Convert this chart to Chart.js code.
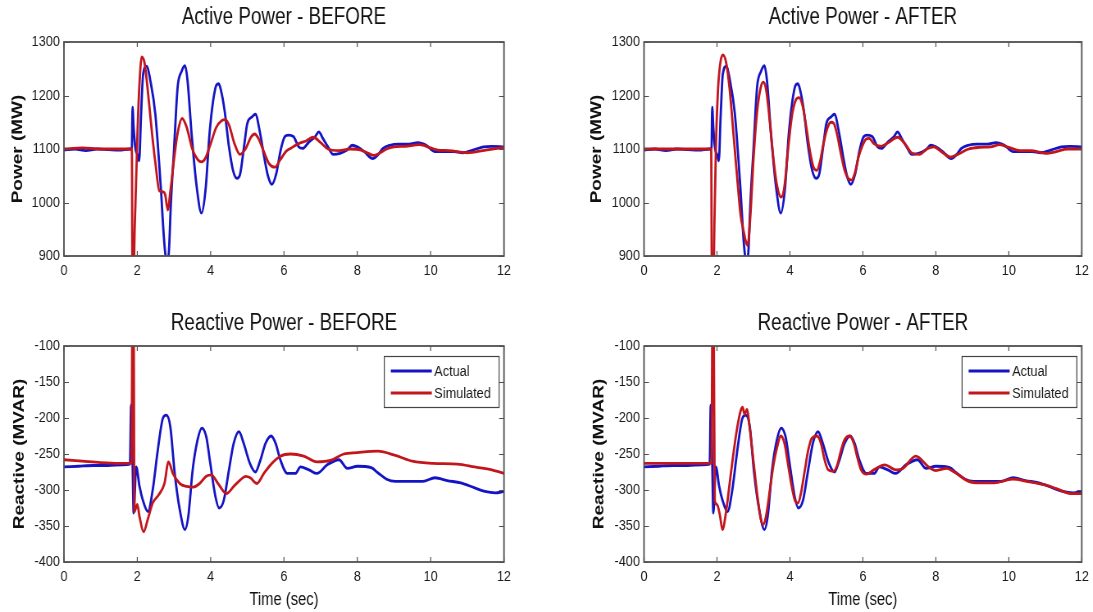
<!DOCTYPE html>
<html>
<head>
<meta charset="utf-8">
<script src="https://cdn.jsdelivr.net/npm/chart.js@4.4.0/dist/chart.umd.min.js"></script>
<style>
    html, body { margin: 0; padding: 0; background: #fff; }
    #wrap { position: relative; width: 1093px; height: 612px; overflow: hidden; }
    /* the source figure is squeezed horizontally, so each panel is drawn wide and scaled */
    canvas { position: absolute; transform: scaleX(0.82); transform-origin: 0 0; }
</style>
</head>
<body>
<div id="wrap">
    <canvas id="activeBefore" width="666" height="300" style="left:0;top:0"></canvas>
    <canvas id="activeAfter" width="667" height="300" style="left:546px;top:0"></canvas>
    <canvas id="reactiveBefore" width="666" height="312" style="left:0;top:300px"></canvas>
    <canvas id="reactiveAfter" width="667" height="312" style="left:546px;top:300px"></canvas>
</div>
<script>
const seriesNames = ["Actual", "Simulated"];
const panelTitles = ["Active Power - BEFORE", "Active Power - AFTER", "Reactive Power - BEFORE", "Reactive Power - AFTER"];

// active power, measured (same in both panels)
const activeActualT = [
    0, 0.3, 0.6, 0.9, 1.2, 1.5, 1.8, 1.85, 1.87, 1.9,
    1.95, 2.0, 2.05, 2.1, 2.16, 2.26, 2.35, 2.49, 2.64, 2.73,
    2.79, 2.85, 2.92, 3.0, 3.1, 3.2, 3.3, 3.37, 3.48, 3.62,
    3.75, 3.86, 3.97, 4.07, 4.16, 4.22, 4.28, 4.38, 4.5, 4.61,
    4.72, 4.8, 4.91, 5.0, 5.13, 5.22, 5.35, 5.46, 5.57, 5.67,
    5.79, 5.91, 6.02, 6.12, 6.26, 6.4, 6.51, 6.68, 6.85, 6.95,
    7.06, 7.2, 7.34, 7.53, 7.72, 7.86, 8.0, 8.19, 8.42, 8.56,
    8.7, 8.89, 9.13, 9.41, 9.65, 9.88, 10.12, 10.35, 10.64, 10.87,
    11.15, 11.44, 11.67, 12,
];
const activeActual = [
    1098, 1100, 1097, 1100, 1099, 1098, 1100, 1100, 1178, 1140,
    1100, 1090, 1078, 1160, 1240, 1255, 1230, 1166, 1029, 930,
    895, 900, 1005, 1098, 1216, 1244, 1256, 1228, 1129, 1029,
    980, 1023, 1129, 1191, 1220, 1222, 1210, 1172, 1104, 1060,
    1045, 1052, 1104, 1148, 1160, 1165, 1129, 1085, 1048, 1034,
    1054, 1098, 1123, 1126, 1123, 1104, 1101, 1113, 1123, 1132,
    1120, 1104, 1090, 1092, 1098, 1107, 1104, 1095, 1082, 1089,
    1101, 1107, 1109, 1109, 1112, 1107, 1095, 1095, 1095, 1093,
    1098, 1104, 1105, 1104,
];

// active power, simulated before calibration
const activeSimBeforeT = [
    0, 0.5, 1.0, 1.5, 1.82, 1.85, 1.88, 1.91, 1.95, 2.0,
    2.05, 2.12, 2.2, 2.3, 2.4, 2.5, 2.6, 2.7, 2.76, 2.83,
    2.9, 3.0, 3.1, 3.22, 3.35, 3.5, 3.65, 3.75, 3.85, 4.0,
    4.15, 4.3, 4.4, 4.5, 4.65, 4.8, 4.95, 5.1, 5.2, 5.3,
    5.45, 5.6, 5.75, 5.9, 6.05, 6.2, 6.4, 6.6, 6.8, 7.0,
    7.2, 7.5, 7.8, 8.1, 8.3, 8.45, 8.6, 8.8, 9.0, 9.3,
    9.7, 10.0, 10.2, 10.5, 11.0, 11.5, 12,
];
const activeSimBefore = [
    1100, 1102, 1100, 1100, 1100, 1100, 600, 880, 1000, 1120,
    1210, 1272, 1260, 1200, 1130, 1070, 1022, 1020, 1015, 986,
    1020, 1080, 1130, 1157, 1140, 1100, 1080, 1076, 1082, 1110,
    1140, 1153, 1155, 1145, 1110, 1090, 1100, 1122, 1128, 1120,
    1095, 1072, 1066, 1080, 1095, 1102, 1110, 1115, 1122, 1112,
    1100, 1097, 1100, 1098, 1092, 1088, 1092, 1100, 1104, 1105,
    1108, 1102, 1098, 1097, 1093, 1098, 1103,
];

// active power, simulated after calibration
const activeSimAfterT = [
    0, 0.5, 1.0, 1.5, 1.84, 1.87, 1.9, 1.93, 1.97, 2.02,
    2.08, 2.16, 2.25, 2.35, 2.45, 2.55, 2.65, 2.72, 2.78, 2.84,
    2.92, 3.0, 3.1, 3.2, 3.27, 3.35, 3.45, 3.55, 3.65, 3.76,
    3.85, 3.95, 4.05, 4.15, 4.25, 4.35, 4.45, 4.55, 4.65, 4.74,
    4.82, 4.92, 5.02, 5.12, 5.2, 5.3, 5.4, 5.5, 5.6, 5.69,
    5.78, 5.88, 5.98, 6.08, 6.17, 6.3, 6.5, 6.7, 6.95, 7.15,
    7.35, 7.55, 7.75, 7.95, 8.15, 8.4, 8.6, 8.9, 9.2, 9.5,
    9.75, 10.0, 10.3, 10.6, 11.0, 11.3, 11.6, 12,
];
const activeSimAfter = [
    1100, 1100, 1100, 1100, 1100, 700, 820, 960, 1100, 1200,
    1255, 1276, 1262, 1210, 1130, 1050, 975, 950, 930, 920,
    980, 1080, 1170, 1215, 1225, 1210, 1150, 1080, 1030, 1010,
    1030, 1100, 1160, 1190, 1196, 1180, 1140, 1095, 1065, 1060,
    1075, 1110, 1138, 1150, 1148, 1125, 1090, 1060, 1045, 1042,
    1055, 1085, 1105, 1118, 1120, 1110, 1105, 1112, 1122, 1110,
    1092, 1090, 1100, 1104, 1095, 1085, 1090, 1100, 1103, 1104,
    1108, 1103, 1097, 1097, 1092, 1095, 1100, 1100,
];

// reactive power, measured (same in both panels)
const reactiveActualT = [
    0, 0.4, 0.8, 1.2, 1.6, 1.8, 1.83, 1.87, 1.9, 1.97,
    2.06, 2.15, 2.29, 2.42, 2.56, 2.7, 2.79, 2.9, 3.02, 3.16,
    3.3, 3.39, 3.51, 3.64, 3.76, 3.88, 3.99, 4.13, 4.23, 4.36,
    4.5, 4.63, 4.77, 4.9, 5.07, 5.22, 5.34, 5.5, 5.65, 5.77,
    5.9, 6.09, 6.31, 6.45, 6.68, 6.9, 7.18, 7.5, 7.73, 8.0,
    8.38, 8.56, 8.8, 9.04, 9.41, 9.79, 10.12, 10.45, 10.82, 11.2,
    11.48, 11.76, 12,
];
const reactiveActual = [
    -268, -267, -266, -266, -265, -264, -182, -260, -332, -268,
    -295, -314, -330, -300, -244, -200, -196, -212, -277, -328,
    -355, -337, -272, -231, -214, -226, -263, -309, -325, -314,
    -272, -235, -219, -235, -263, -275, -261, -235, -225, -235,
    -258, -277, -277, -268, -272, -277, -265, -258, -270, -267,
    -269, -276, -285, -288, -288, -288, -283, -287, -290, -297,
    -302, -304, -302,
];

// reactive power, simulated before calibration
const reactiveSimBeforeT = [
    0, 0.5, 1.0, 1.5, 1.84, 1.87, 1.9, 1.92, 2.0, 2.06,
    2.17, 2.29, 2.42, 2.58, 2.74, 2.85, 2.97, 3.16, 3.34, 3.52,
    3.7, 3.88, 4.02, 4.2, 4.43, 4.63, 4.81, 4.95, 5.08, 5.26,
    5.45, 5.67, 5.9, 6.18, 6.54, 6.9, 7.27, 7.63, 8.0, 8.56,
    9.04, 9.5, 10.07, 10.73, 11.2, 11.67, 12,
];
const reactiveSimBefore = [
    -258, -260, -262, -263, -263, -30, -60, -330, -320, -337,
    -358, -340, -318, -307, -291, -261, -277, -291, -295, -296,
    -291, -281, -279, -291, -305, -295, -286, -281, -283, -291,
    -277, -263, -253, -250, -253, -261, -259, -250, -248, -246,
    -252, -260, -263, -264, -268, -272, -277,
];

// reactive power, simulated after calibration
const reactiveSimAfterT = [
    0, 0.5, 1.0, 1.5, 1.85, 1.88, 1.91, 1.94, 2.0, 2.08,
    2.15, 2.25, 2.35, 2.45, 2.55, 2.65, 2.7, 2.76, 2.82, 2.9,
    3.0, 3.1, 3.2, 3.27, 3.35, 3.45, 3.55, 3.65, 3.75, 3.85,
    3.95, 4.05, 4.15, 4.22, 4.3, 4.4, 4.5, 4.6, 4.74, 4.85,
    4.95, 5.05, 5.2, 5.3, 5.4, 5.5, 5.64, 5.75, 5.85, 5.95,
    6.1, 6.3, 6.6, 6.9, 7.1, 7.45, 7.8, 8.0, 8.3, 8.5,
    8.9, 9.2, 9.6, 10.1, 10.5, 11.0, 11.3, 11.7, 12,
];
const reactiveSimAfter = [
    -263, -263, -263, -263, -263, -30, -60, -315, -320, -335,
    -355, -330, -290, -250, -215, -190, -185, -195, -188, -215,
    -260, -305, -340, -348, -335, -300, -265, -240, -225, -235,
    -265, -295, -316, -318, -305, -275, -245, -228, -225, -235,
    -258, -272, -274, -265, -245, -230, -225, -235, -255, -272,
    -278, -272, -265, -272, -270, -253, -268, -273, -270, -275,
    -288, -290, -290, -285, -288, -293, -298, -305, -305,
];

const colors = { actual: "#1414c4", simulated: "#c2161c", axis: "#505050", text: "#1a1a1a" };
const FONT = '"Liberation Sans", Arial, sans-serif';

const toPoints = (t, v) => t.map((x, i) => ({ x, y: v[i] }));

// matlab style box with inward ticks on all four sides
const matlabAxes = {
    id: "matlabAxes",
    afterDraw(chart) {
        const { ctx, chartArea: a, scales } = chart;
        ctx.save();
        ctx.strokeStyle = colors.axis;
        ctx.lineWidth = 1.2;
        ctx.beginPath();
        scales.x.ticks.forEach((tk) => {
            const px = scales.x.getPixelForValue(tk.value);
            ctx.moveTo(px, a.bottom); ctx.lineTo(px, a.bottom - 5);
            ctx.moveTo(px, a.top); ctx.lineTo(px, a.top + 5);
        });
        scales.y.ticks.forEach((tk) => {
            const py = Math.round(scales.y.getPixelForValue(tk.value)) + 0.5;
            ctx.moveTo(a.left, py); ctx.lineTo(a.left + 6, py);
            ctx.moveTo(a.right, py); ctx.lineTo(a.right - 6, py);
        });
        ctx.stroke();
        ctx.lineWidth = 1.8;
        ctx.strokeRect(a.left, a.top, a.right - a.left, a.bottom - a.top);
        ctx.restore();
    },
};

const boxLegend = {
    id: "boxLegend",
    afterDraw(chart, args, opts) {
        if (!opts.show) return;
        const { ctx, chartArea: a } = chart;
        const w = 140, h = 51;
        const x0 = a.right - 6 - w, y0 = a.top + 10;
        ctx.save();
        ctx.fillStyle = "#fff";
        ctx.fillRect(x0, y0, w, h);
        ctx.strokeStyle = "#444";
        ctx.lineWidth = 1.2;
        ctx.strokeRect(x0, y0 + 0.5, w, h);
        ctx.font = "15.5px " + FONT;
        ctx.textBaseline = "middle";
        ctx.fillStyle = colors.text;
        chart.data.datasets.forEach((ds, i) => {
            const y = y0 + 15 + i * 22;
            ctx.strokeStyle = ds.borderColor;
            ctx.lineWidth = 2.8;
            ctx.beginPath();
            ctx.moveTo(x0 + 8, y);
            ctx.lineTo(x0 + 58, y);
            ctx.stroke();
            ctx.fillText(ds.label, x0 + 61, y + 1);
        });
        ctx.restore();
    },
};

function makePanel(id, cfg) {
    return new Chart(document.getElementById(id), {
        type: "line",
        data: {
            datasets: [
                {
                    label: seriesNames[0],
                    data: toPoints(cfg.actualT, cfg.actual),
                    borderColor: colors.actual,
                    borderWidth: 2.8,
                    pointRadius: 0,
                    cubicInterpolationMode: "monotone",
                    order: 1,
                },
                {
                    label: seriesNames[1],
                    data: toPoints(cfg.simT, cfg.sim),
                    borderColor: colors.simulated,
                    borderWidth: 2.8,
                    pointRadius: 0,
                    cubicInterpolationMode: "monotone",
                    order: 0,
                },
            ],
        },
        options: {
            responsive: false,
            animation: false,
            layout: { padding: { left: 0, right: cfg.padRight, top: 0, bottom: 0 } },
            plugins: {
                legend: { display: false },
                tooltip: { enabled: false },
                title: {
                    display: true,
                    text: cfg.title,
                    fullSize: false,
                    color: "#111",
                    font: { family: FONT, size: 23, weight: "normal", lineHeight: 1.2 },
                    padding: { top: cfg.titleTop, bottom: cfg.titleBottom },
                },
                boxLegend: { show: cfg.legend },
            },
            scales: {
                x: {
                    type: "linear",
                    min: 0,
                    max: 12,
                    border: { display: false },
                    grid: { display: false, drawTicks: false },
                    ticks: {
                        stepSize: 2,
                        autoSkip: false,
                        maxRotation: 0,
                        padding: 5,
                        color: colors.text,
                        font: { family: FONT, size: 15.5 },
                    },
                    title: {
                        display: cfg.xTitle,
                        text: "Time (sec)",
                        color: "#111",
                        font: { family: FONT, size: 18, lineHeight: 1 },
                        padding: { top: 0, bottom: 3 },
                    },
                    afterFit(scale) { scale.height = cfg.xHeight; },
                },
                y: {
                    min: cfg.yMin,
                    max: cfg.yMax,
                    border: { display: false },
                    grid: { display: false, drawTicks: false },
                    ticks: {
                        stepSize: cfg.yStep,
                        padding: 5,
                        color: colors.text,
                        font: { family: FONT, size: 15.5 },
                        callback: (v) => String(v),
                    },
                    title: {
                        display: true,
                        text: cfg.yTitle,
                        color: "#111",
                        font: { family: FONT, size: 19, weight: "bold", lineHeight: 1 },
                        padding: { top: cfg.yTitlePad, bottom: 0 },
                    },
                    afterFit(scale) { scale.width = cfg.yWidth; },
                },
            },
        },
        plugins: [matlabAxes, boxLegend],
    });
}

// sizes below are in unscaled canvas pixels (displayed width x 0.82)
const leftGeom = { yWidth: 78, padRight: 51.4 };
const rightGeom = { yWidth: 119.5, padRight: 12.1 };
const topRow = { titleTop: 4, titleBottom: 10.4, xHeight: 44, xTitle: false, legend: false };
const bottomRow = { titleTop: 10, titleBottom: 8.4, xHeight: 50, xTitle: true, legend: true };
const activeAxis = { yMin: 900, yMax: 1300, yStep: 100, yTitle: "Power (MW)" };
const reactiveAxis = { yMin: -400, yMax: -100, yStep: 50, yTitle: "Reactive (MVAR)" };

makePanel("activeBefore", {
    ...leftGeom, ...topRow, ...activeAxis, yTitlePad: 12, title: panelTitles[0],
    actualT: activeActualT, actual: activeActual, simT: activeSimBeforeT, sim: activeSimBefore,
});
makePanel("activeAfter", {
    ...rightGeom, ...topRow, ...activeAxis, yTitlePad: 52, title: panelTitles[1],
    actualT: activeActualT, actual: activeActual, simT: activeSimAfterT, sim: activeSimAfter,
});
makePanel("reactiveBefore", {
    ...leftGeom, ...bottomRow, ...reactiveAxis, yTitlePad: 14, title: panelTitles[2],
    actualT: reactiveActualT, actual: reactiveActual, simT: reactiveSimBeforeT, sim: reactiveSimBefore,
});
makePanel("reactiveAfter", {
    ...rightGeom, ...bottomRow, ...reactiveAxis, yTitlePad: 55, title: panelTitles[3],
    actualT: reactiveActualT, actual: reactiveActual, simT: reactiveSimAfterT, sim: reactiveSimAfter,
});
</script>
</body>
</html>
